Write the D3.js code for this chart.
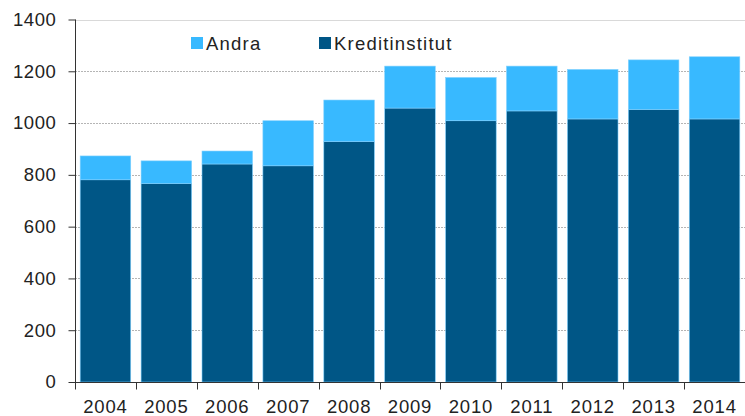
<!DOCTYPE html>
<html>
<head>
<meta charset="utf-8">
<script src="https://cdn.jsdelivr.net/npm/d3@7"></script>
<style>
  body { margin: 0; background: #fff; }
  svg { display: block; font-family: "Liberation Sans", Arial, sans-serif; }
</style>
</head>
<body>
<div id="chart"></div>
<script>
var years = ["2004", "2005", "2006", "2007", "2008", "2009", "2010", "2011", "2012", "2013", "2014"];
var kreditinstitut = [781, 767, 842, 835, 929, 1058, 1009, 1047, 1016, 1053, 1016];
var andra = [92, 87, 50, 174, 160, 162, 167, 173, 191, 191, 240];
var yTicks = [0, 200, 400, 600, 800, 1000, 1200, 1400];
var seriesNames = ["Kreditinstitut", "Andra"];
var colors = { "Kreditinstitut": "#005686", "Andra": "#38b9ff" };

var width = 745, height = 416;
var margin = { top: 19.5, right: 0, bottom: 34, left: 75 };

var svg = d3.select("#chart")
  .append("svg")
  .attr("width", width)
  .attr("height", height);

var x = d3.scaleBand()
  .domain(years)
  .range([margin.left, width])
  .paddingInner(0.17)
  .paddingOuter(0.085);

var y = d3.scaleLinear()
  .domain([0, 1400])
  .range([height - margin.bottom, margin.top]);

// gridlines
svg.append("g")
  .selectAll("line")
  .data(yTicks.slice(1))
  .enter()
  .append("line")
  .attr("x1", margin.left)
  .attr("x2", width)
  .attr("y1", function(d) { return Math.round(y(d)) + 0.5; })
  .attr("y2", function(d) { return Math.round(y(d)) + 0.5; })
  .attr("stroke", function(d) { return d == 1400 ? "#d9d9d9" : "#b5b5b5"; })
  .attr("stroke-dasharray", function(d) { return d == 1400 ? null : "2,1"; });

// stacked bars
var table = years.map(function(yr, i) {
  return { year: yr, "Kreditinstitut": kreditinstitut[i], "Andra": andra[i] };
});
var stacked = d3.stack().keys(seriesNames)(table);

svg.append("g")
  .selectAll("g")
  .data(stacked)
  .enter()
  .append("g")
  .attr("fill", function(d) { return colors[d.key]; })
  .selectAll("rect")
  .data(function(d) { return d; })
  .enter()
  .append("rect")
  .attr("x", function(d) { return x(d.data.year); })
  .attr("width", x.bandwidth())
  .attr("y", function(d) { return y(d[1]); })
  .attr("height", function(d) { return y(d[0]) - y(d[1]); })
  .attr("stroke", "#7fd0ff")
  .attr("stroke-width", 0.6);

// y axis
var yAxis = svg.append("g")
  .attr("transform", "translate(" + (margin.left + 0.5) + ",0)")
  .call(d3.axisLeft(y).tickValues(yTicks).tickSize(7).tickPadding(12).tickFormat(d3.format("d")));
yAxis.select(".domain").attr("stroke", "#333").attr("d", "M0," + (margin.top) + "V" + (height - margin.bottom + 7));
yAxis.selectAll(".tick line").attr("stroke", "#333");
yAxis.selectAll(".tick text")
  .attr("font-size", "18.5px")
  .attr("letter-spacing", "0.6px")
  .attr("fill", "#222")
  .attr("font-family", "Liberation Sans, Arial, sans-serif");

// x axis with ticks at category boundaries
var xAxisG = svg.append("g")
  .attr("transform", "translate(0," + (height - margin.bottom + 0.5) + ")");
xAxisG.append("line")
  .attr("x1", margin.left)
  .attr("x2", width)
  .attr("stroke", "#333");
xAxisG.selectAll(".bound")
  .data(years)
  .enter()
  .append("line")
  .attr("class", "bound")
  .attr("x1", function(d) { return Math.round(x(d) - x.step() * x.paddingInner() / 2) + 0.5; })
  .attr("x2", function(d) { return Math.round(x(d) - x.step() * x.paddingInner() / 2) + 0.5; })
  .attr("y1", 0)
  .attr("y2", 7)
  .attr("stroke", "#333");
xAxisG.selectAll("text")
  .data(years)
  .enter()
  .append("text")
  .attr("x", function(d) { return x(d) + x.bandwidth() / 2; })
  .attr("y", 30)
  .attr("text-anchor", "middle")
  .attr("font-size", "18.5px")
  .attr("letter-spacing", "0.8px")
  .attr("fill", "#222")
  .text(function(d) { return d; });

// legend
var legendItems = [
  { name: "Andra", x: 191 },
  { name: "Kreditinstitut", x: 319 }
];
var legend = svg.append("g");
legend.selectAll("rect")
  .data(legendItems)
  .enter()
  .append("rect")
  .attr("x", function(d) { return d.x; })
  .attr("y", 37)
  .attr("width", 12)
  .attr("height", 12)
  .attr("fill", function(d) { return colors[d.name]; });
legend.selectAll("text")
  .data(legendItems)
  .enter()
  .append("text")
  .attr("x", function(d) { return d.x + 15; })
  .attr("y", 50)
  .attr("font-size", "18.5px")
  .attr("letter-spacing", "1.2px")
  .attr("fill", "#222")
  .text(function(d) { return d.name; });
</script>
</body>
</html>
